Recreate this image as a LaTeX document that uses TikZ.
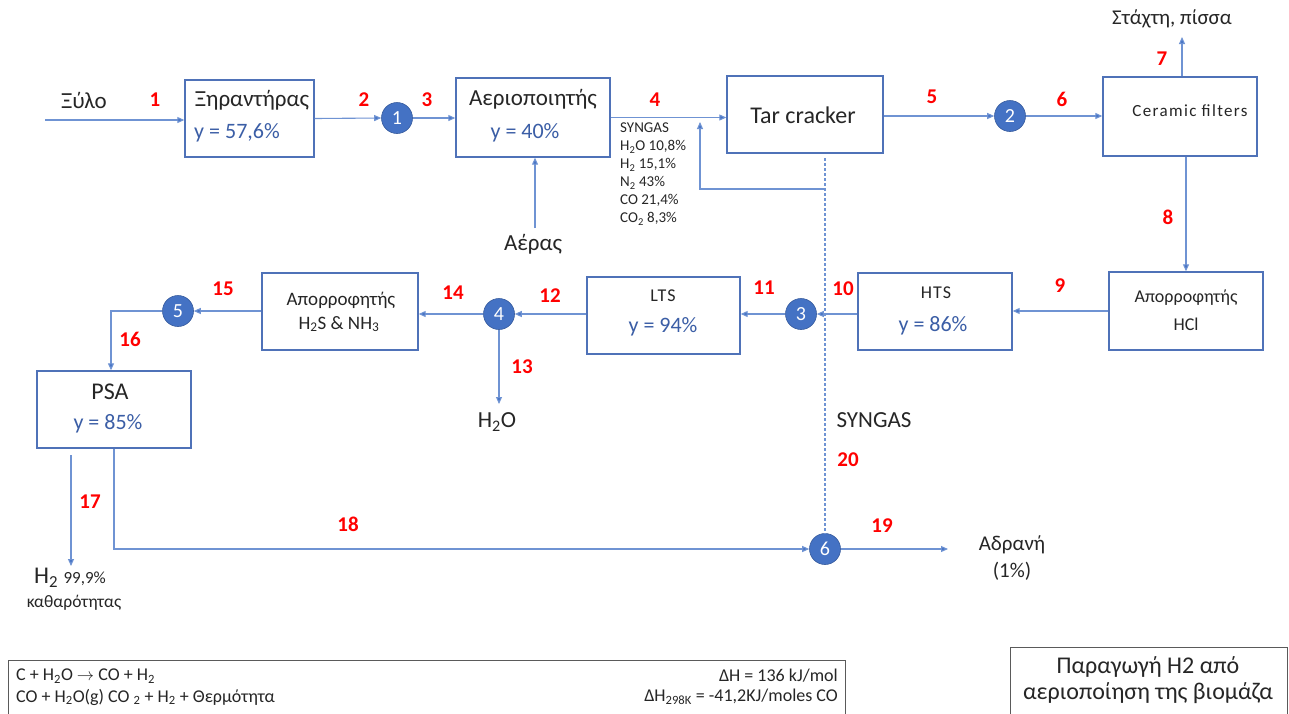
\documentclass[tikz,border=0pt]{standalone}
\usepackage{fontspec}
\setmainfont{Carlito}
\usetikzlibrary{arrows.meta}

\definecolor{boxblue}{HTML}{4F72B8}
\definecolor{lineblue}{HTML}{6F93D3}
\definecolor{mixblue}{HTML}{4472C4}
\definecolor{yblue}{HTML}{3B5EA6}
\definecolor{numred}{HTML}{FF0000}
\definecolor{framegray}{HTML}{5A5A5A}

\newcommand\fsz[2]{\fontsize{#1}{#2}\selectfont}

\tikzset{
  unit/.style={draw=boxblue, line width=1.4pt, minimum width=154pt, minimum height=77pt, inner sep=0pt},
  flow/.style={draw=lineblue, line width=1.1pt, -{Triangle[length=7pt,width=6pt,fill=mixblue]}},
  dotline/.style={draw=lineblue, line width=1.1pt, dash pattern=on 2.5pt off 2.5pt},
  mix/.style={circle, fill=mixblue, draw=mixblue!80!black, line width=0.6pt, minimum size=31pt, inner sep=0pt, text=white, font=\fsz{20}{24}},
  num/.style={text=numred, font=\fsz{21}{24}\bfseries, inner sep=0pt},
  lbl/.style={inner sep=0pt, font=\fsz{23}{27}, text=black!85},
  small/.style={inner sep=0pt, font=\fsz{18}{22}, text=black!85},
  yval/.style={inner sep=0pt, font=\fsz{22}{26}, text=yblue},
  plaintext/.style={inner sep=0pt, text=black!85},
}

\begin{document}
\begin{tikzpicture}[x=1pt, y=-1pt]
\useasboundingbox (0,0) rectangle (1289,713);
\fill[white] (0,0) rectangle (1289,713);

% ---- process units ----
\node[unit, minimum width=129pt] (xir) at (249.5,118.5) {};
\node[unit, minimum height=79pt] (gas) at (533,117.5) {};
\node[unit, minimum width=156pt] (tar) at (805,114.5) {};
\node[unit, minimum height=79pt] (cer) at (1180,116.5) {};
\node[unit, minimum height=78pt] (hcl) at (1186,311) {};
\node[unit] (hts) at (935,311.5) {};
\node[unit, minimum width=153pt] (lts) at (663.5,315.5) {};
\node[unit, minimum width=156pt] (hss) at (340,311.5) {};
\node[unit] (psa) at (114,409.5) {};

% ---- texts inside the units ----
\node[lbl] (xirT) at (252,100) {Ξηραντήρας};
\node[yval] (xirY) at (237,133) {y = 57,6\%};
\node[lbl] (gasT) at (533,99) {Αεριοποιητής};
\node[yval] (gasY) at (525,133) {y = 40\%};
\node[plaintext, font=\fsz{24}{28}] (tarT) at (803,115) {Tar cracker};
\node[small, font=\fsz{17}{20}\addfontfeature{LetterSpace=8}] (cerT) at (1190,111) {Ceramic filters};
\node[small] (hclT1) at (1186,298) {Απορροφητής};
\node[small] (hclT2) at (1186,324) {HCl};
\node[small, font=\fsz{18}{22}\addfontfeature{LetterSpace=6}] (htsT) at (936,293) {HTS};
\node[yval] (htsY) at (933,326) {y = 86\%};
\node[small, font=\fsz{18}{22}\addfontfeature{LetterSpace=6}] (ltsT) at (663,296) {LTS};
\node[yval] (ltsY) at (663,327) {y = 94\%};
\node[small, font=\fsz{19}{22}] (hssT1) at (341,300) {Απορροφητής};
\node[small, font=\fsz{19}{22}] (hssT2) at (339,324) {H\textsubscript{2}S \& NH\textsubscript{3}};
\node[plaintext, font=\fsz{24}{28}] (psaT) at (110,392) {PSA};
\node[yval] (psaY) at (108,424) {y = 85\%};

% ---- mixing points ----
\node[mix] (m1) at (397,118) {1};
\node[mix] (m2) at (1010,116) {2};
\node[mix] (m3) at (801,314) {3};
\node[mix] (m4) at (499,314) {4};
\node[mix] (m5) at (178,311) {5};
\node[mix] (m6) at (825,549) {6};

% ---- free ends of streams ----
\coordinate (woodin) at (45,120);
\coordinate (airin) at (535,228);
\coordinate (ashout) at (1182,37);
\coordinate (waterout) at (499,404);
\coordinate (h2top) at (71,455);
\coordinate (h2out) at (71,566);
\coordinate (inertout) at (948,549);
\coordinate (recfrom) at (825,189);
\coordinate (reccorner) at (700,189);
\coordinate (recin) at (700,122);
\coordinate (dotstart) at (825,158);

% ---- streams ----
\draw[flow] (woodin) -- (woodin -| xir.west);
\draw[flow] (xir.east) -- (m1.west);
\draw[flow] (m1.east) -- (m1.east -| gas.west);
\draw[flow] (airin) -- (airin |- gas.south);
\draw[flow] (gas.east) -- (gas.east -| tar.west);
\draw[flow] (recfrom) -- (reccorner) -- (recin);
\draw[dotline] (dotstart) -- (m6.north);
\draw[flow] (tar.east |- m2.west) -- (m2.west);
\draw[flow] (m2.east) -- (m2.east -| cer.west);
\draw[flow] (cer.north -| ashout) -- (ashout);
\draw[flow] (hcl.north |- cer.south) -- (hcl.north);
\draw[flow] (hcl.west) -- (hcl.west -| hts.east);
\draw[flow] (hts.west |- m3.east) -- (m3.east);
\draw[flow] (m3.west) -- (m3.west -| lts.east);
\draw[flow] (lts.west |- m4.east) -- (m4.east);
\draw[flow] (m4.west) -- (m4.west -| hss.east);
\draw[flow] (m4.south) -- (waterout);
\draw[flow] (hss.west |- m5.east) -- (m5.east);
\draw[flow] (m5.west) -| ([xshift=-3pt]psa.north);
\draw[flow] (h2top) -- (h2out);
\draw[flow] (psa.south) |- (m6.west);
\draw[flow] (m6.east) -- (inertout);

% ---- stream numbers ----
\node[num] (n1) at (155,100) {1};
\node[num] (n2) at (364,100) {2};
\node[num] (n3) at (427,100) {3};
\node[num] (n4) at (655,100) {4};
\node[num] (n5) at (932,97) {5};
\node[num] (n6) at (1062,99) {6};
\node[num] (n7) at (1162,59) {7};
\node[num] (n8) at (1168,217) {8};
\node[num] (n9) at (1060,286) {9};
\node[num] (n10) at (843,289) {10};
\node[num] (n11) at (764,288) {11};
\node[num] (n12) at (550,296) {12};
\node[num] (n13) at (522,367) {13};
\node[num] (n14) at (453,293) {14};
\node[num] (n15) at (223,289) {15};
\node[num] (n16) at (130,339) {16};
\node[num] (n17) at (90,502) {17};
\node[num] (n18) at (348,524) {18};
\node[num] (n19) at (882,526) {19};
\node[num] (n20) at (848,460) {20};

% ---- stream labels ----
\node[lbl] (wood) at (84,100) {Ξύλο};
\node[lbl] (air) at (533,244) {Αέρας};
\node[plaintext, font=\fsz{21}{24}] (ash) at (1172,19) {Στάχτη, πίσσα};
\node[lbl] (water) at (497,422) {H\textsubscript{2}O};
\node[plaintext, font=\fsz{23}{27}] (syn) at (874,420) {SYNGAS};
\node[plaintext, anchor=north west, align=left, font=\fsz{15}{18}] (comp) at (620,123)
  {SYNGAS\\ H\textsubscript{2}O 10,8\%\\ H\textsubscript{2} 15,1\%\\ N\textsubscript{2} 43\%\\ CO 21,4\%\\ CO\textsubscript{2} 8,3\%};
\node[plaintext] (h2prod) at (70,578) {\fsz{24}{28}H\textsubscript{2} \fsz{17}{20}99,9\%};
\node[plaintext, font=\fsz{17.5}{21}] (purity) at (74,603) {καθαρότητας};
\node[plaintext, font=\fsz{21}{24}] (inert1) at (1012,545) {Αδρανή};
\node[plaintext, font=\fsz{21}{24}] (inert2) at (1012,571) {(1\%)};

% ---- reaction frame ----
\draw[framegray, line width=0.9pt] (8,714) -- (8,660) -- (845,660) -- (845,714);
\node[plaintext, anchor=west, font=\fsz{18}{22}] (r1) at (16,676)
  {C + H\textsubscript{2}O $\rightarrow$ CO + H\textsubscript{2}};
\node[plaintext, anchor=west, font=\fsz{18}{22}] (r2) at (16,697)
  {CO + H\textsubscript{2}O(g) CO \textsubscript{2} + H\textsubscript{2} + Θερμότητα};
\node[plaintext, anchor=east, font=\fsz{18}{22}] (dh1) at (838,676) {ΔH = 136 kJ/mol};
\node[plaintext, anchor=east, font=\fsz{18}{22}] (dh2) at (838,697)
  {ΔH\textsubscript{298K} = -41,2KJ/moles CO};

% ---- title frame ----
\draw[framegray, line width=0.9pt] (1010,714) -- (1010,647) -- (1287,647) -- (1287,714);
\node[plaintext, font=\fsz{24}{28}] (title1) at (1148,667) {Παραγωγή H2 από};
\node[plaintext, font=\fsz{24}{28}] (title2) at (1148,693) {αεριοποίηση της βιομάζα};
\end{tikzpicture}
\end{document}
